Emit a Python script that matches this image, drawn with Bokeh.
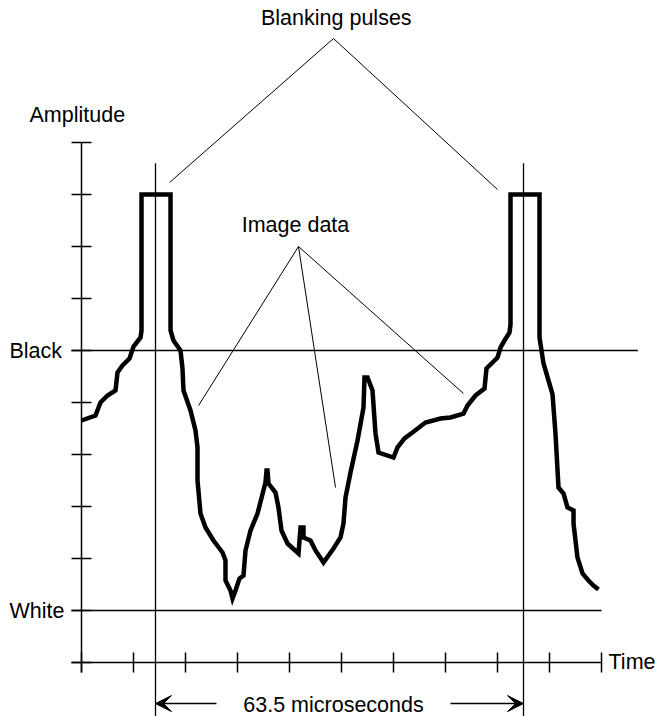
from bokeh.plotting import figure
from bokeh.models import Range1d, Arrow, VeeHead
from bokeh.core.properties import value
from bokeh.embed import file_html
from bokeh.resources import INLINE

# ---------------- data (time in tick units, amplitude in tick units) ----------------
wave_t = [0.0, 0.269, 0.365, 0.5, 0.654, 0.692, 0.788, 0.923, 1.0, 1.135, 1.154,
          1.154, 1.712,
          1.712, 1.769, 1.904, 1.942, 1.962, 2.096, 2.192, 2.231, 2.231, 2.288, 2.385,
          2.538, 2.712, 2.769, 2.769, 2.865, 2.904, 2.962, 3.038, 3.115, 3.154, 3.25,
          3.385, 3.538, 3.558, 3.577, 3.596, 3.731, 3.788, 3.846, 3.962, 4.173, 4.212,
          4.269, 4.269, 4.404, 4.5, 4.654, 4.846, 4.981, 5.038, 5.077, 5.173, 5.308,
          5.423, 5.442, 5.5, 5.596, 5.654, 5.712, 6.0, 6.077, 6.212, 6.365, 6.615,
          6.904, 7.096, 7.346, 7.423, 7.577, 7.75, 7.788, 7.904, 8.0, 8.058, 8.135,
          8.231, 8.25,
          8.25, 8.808,
          8.808, 8.885, 8.981, 9.058, 9.115, 9.173, 9.269, 9.346, 9.462, 9.462, 9.538,
          9.635, 9.75, 9.846, 9.942]
wave_a = [4.654, 4.75, 5.0, 5.135, 5.231, 5.577, 5.712, 5.846, 6.077, 6.25, 6.385,
          9.0, 9.0,
          6.385, 6.192, 6.0, 5.654, 5.231, 4.846, 4.462, 4.135, 3.5, 2.865, 2.596,
          2.346, 2.115, 1.962, 1.577, 1.385, 1.231, 1.385, 1.615, 1.673, 2.154, 2.538,
          2.865, 3.462, 3.692, 3.692, 3.442, 3.269, 2.981, 2.538, 2.288, 2.096, 2.596,
          2.596, 2.404, 2.346, 2.154, 1.923, 2.192, 2.404, 2.673, 3.173, 3.654, 4.269,
          4.904, 5.481, 5.481, 5.231, 4.404, 4.038, 3.942, 4.135, 4.308, 4.423, 4.615,
          4.692, 4.712, 4.788, 4.942, 5.135, 5.269, 5.654, 5.769, 5.865, 6.058, 6.192,
          6.346, 6.5,
          9.0, 9.0,
          6.25, 5.75, 5.423, 5.154, 4.404, 3.365, 3.25, 2.981, 2.923, 2.673, 2.019,
          1.712, 1.577, 1.481, 1.404]

y_ticks = [0, 1, 2, 3, 4, 5, 6, 7, 8, 9, 10]
x_ticks = [0, 1, 2, 3, 4, 5, 6, 7, 8, 9, 10]
black_level = 6
white_level = 1
pulse_times = [1.423, 8.5]          # the two reference verticals (63.5 microseconds apart)
period_label = "63.5 microseconds"

FONT = value("Liberation Sans")
FS = value("21.5px")

p = figure(width=658, height=716, x_range=Range1d(-1.5577, 11.096),
           y_range=Range1d(-1.0385, 12.731), output_backend="svg",
           toolbar_location=None, min_border=0,
           x_axis_location=None, y_axis_location=None)
p.grid.visible = False
p.outline_line_color = None
p.background_fill_color = "white"
p.border_fill_color = "white"

tk = 0.192  # half tick length
# y axis + ticks
p.segment(x0=[0], y0=[-tk], x1=[0], y1=[max(y_ticks)], line_color="black", line_width=1.5)
p.segment(x0=[-tk] * len(y_ticks), y0=y_ticks, x1=[tk] * len(y_ticks), y1=y_ticks,
          line_color="black", line_width=1.5)
# x axis + ticks
p.segment(x0=[-tk], y0=[0], x1=[max(x_ticks)], y1=[0], line_color="black", line_width=1.5)
p.segment(x0=x_ticks, y0=[-tk] * len(x_ticks), x1=x_ticks, y1=[tk] * len(x_ticks),
          line_color="black", line_width=1.5)
# black / white levels
p.segment(x0=[-tk], y0=[black_level], x1=[10.7], y1=[black_level], line_color="black", line_width=1.3)
p.segment(x0=[-tk], y0=[white_level], x1=[max(x_ticks)], y1=[white_level], line_color="black", line_width=1.3)
# pulse reference verticals
p.segment(x0=pulse_times, y0=[9.6, 9.6], x1=pulse_times, y1=[-1.1, -1.1],
          line_color="black", line_width=1.3)

# waveform
p.line(wave_t, wave_a, line_color="black", line_width=4.5, line_join="miter")

# leader lines
p.segment(x0=[4.846, 4.846], y0=[12.0, 12.0], x1=[1.692, 8.0], y1=[9.23, 9.096],
          line_color="black", line_width=1)
p.segment(x0=[4.173, 4.173, 4.173], y0=[8.0, 8.0, 8.0], x1=[2.25, 4.885, 7.346],
          y1=[4.94, 3.365, 5.173], line_color="black", line_width=1)

# arrows for the period
p.add_layout(Arrow(x_start=2.596, y_start=-0.79, x_end=pulse_times[0], y_end=-0.79,
                   line_width=1.5, end=VeeHead(size=16, fill_color="black", line_color="black")))
p.add_layout(Arrow(x_start=7.096, y_start=-0.79, x_end=pulse_times[1], y_end=-0.79,
                   line_width=1.5, end=VeeHead(size=16, fill_color="black", line_color="black")))

# texts
p.text(x=[-1.0], y=[10.53], text=["Amplitude"], text_font=FONT, text_font_size=FS,
       text_align="left", text_baseline="middle")
p.text(x=[4.90], y=[12.40], text=["Blanking pulses"], text_font=FONT, text_font_size=FS,
       text_align="center", text_baseline="middle")
p.text(x=[4.115], y=[8.42], text=["Image data"], text_font=FONT, text_font_size=FS,
       text_align="center", text_baseline="middle")
p.text(x=[-1.385, -1.385], y=[black_level, white_level], text=["Black", "White"],
       text_font=FONT, text_font_size=FS, text_align="left", text_baseline="middle")
p.text(x=[10.135], y=[0], text=["Time"], text_font=FONT, text_font_size=FS,
       text_align="left", text_baseline="middle")
p.text(x=[4.846], y=[-0.81], text=[period_label], text_font=FONT, text_font_size=FS,
       text_align="center", text_baseline="middle")

open("out.html", "w").write(file_html(p, INLINE))
